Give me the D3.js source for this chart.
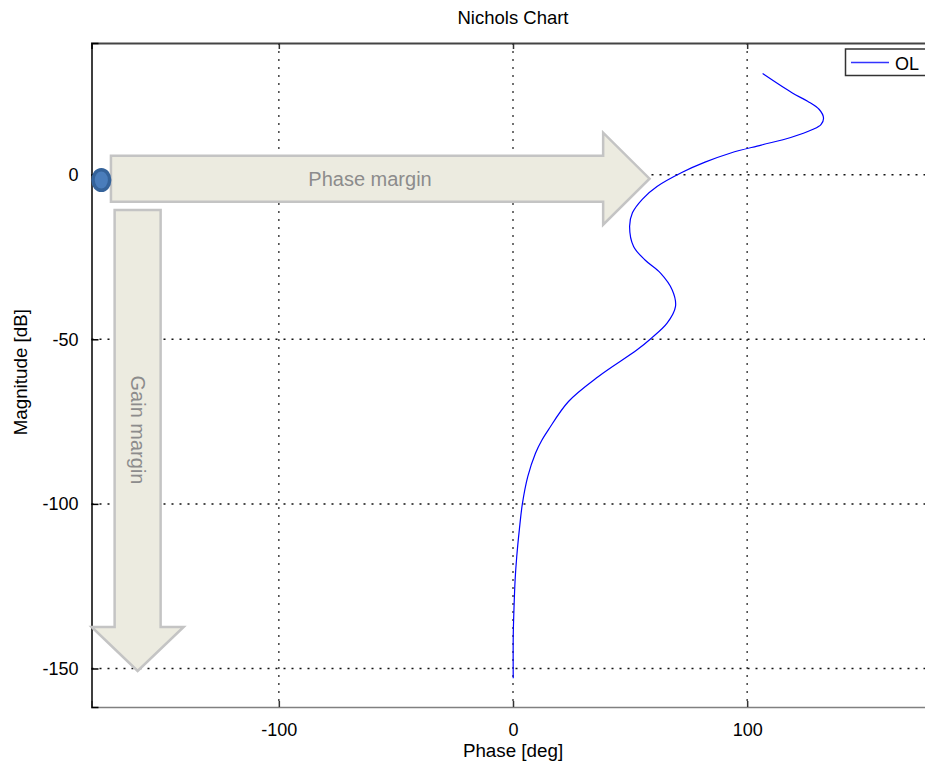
<!DOCTYPE html>
<html>
<head>
<meta charset="utf-8">
<script src="https://cdn.jsdelivr.net/npm/d3@7"></script>
<style>
  body { margin: 0; background: #fff; }
  svg { display: block; font-family: "Liberation Sans", Arial, sans-serif; }
</style>
</head>
<body>
<div id="chart"></div>
<script>
// open loop response, low freq at the bottom
var phase = [0.1, 0.1, 0.4, 0.9, 1.6, 2.7, 4.0, 6.3, 9.6, 12.2, 15.1, 23.7, 36.5, 53.0, 58.7,
             65.8, 69.4, 68.0, 63.0, 56.5, 51.5, 49.8, 51.0, 55.3, 61.5, 72.5, 82.0, 93.0,
             106.0, 118.6, 127.9, 131.5, 132.6, 130.8, 125.8, 119.3, 106.6];
var mag = [-153.0, -140.3, -132.2, -123.1, -116.0, -107.9, -100.0, -91.7, -84.6, -80.8, -77.5,
           -68.9, -61.3, -53.2, -49.9, -45.1, -40.0, -35.0, -29.9, -26.0, -21.8, -15.7, -11.6,
           -7.4, -3.6, 0.8, 3.8, 6.6, 9.0, 11.3, 13.7, 15.2, 17.2, 19.8, 22.3, 24.8, 30.7];
var xTicks = [-100, 0, 100];
var yTicks = [0, -50, -100, -150];
var seriesName = 'OL';

(function () {
    var width = 925, height = 763;
    var pLeft = 91.5, pTop = 43, pRight = 934.5, pBottom = 707;
    var fmt = function (d) { return String(d); };

    var x = d3.scaleLinear().domain([-180, 180]).range([pLeft, pRight]);
    var y = d3.scaleLinear().domain([-161.7, 40]).range([pBottom, pTop]);

    var svg = d3.select('#chart').append('svg')
        .attr('width', width)
        .attr('height', height);

    // grid
    svg.selectAll('.vgrid').data(xTicks).enter()
        .append('line')
        .attr('x1', function (d) { return x(d); })
        .attr('x2', function (d) { return x(d); })
        .attr('y1', pTop)
        .attr('y2', pBottom)
        .attr('stroke', '#444')
        .attr('stroke-width', 1.5)
        .attr('stroke-dasharray', '2,6');
    svg.selectAll('.hgrid').data(yTicks).enter()
        .append('line')
        .attr('x1', pLeft)
        .attr('x2', pRight)
        .attr('y1', function (d) { return y(d); })
        .attr('y2', function (d) { return y(d); })
        .attr('stroke', '#111')
        .attr('stroke-width', 1.5)
        .attr('stroke-dasharray', '2,6');

    // axes
    var xAxis = d3.axisBottom(x).tickValues(xTicks).tickFormat(fmt).tickSize(-6).tickPadding(16);
    var yAxis = d3.axisLeft(y).tickValues(yTicks).tickFormat(fmt).tickSize(-7).tickPadding(13);

    var gx = svg.append('g').attr('transform', 'translate(0,' + pBottom + ')').call(xAxis);
    gx.select('.domain').attr('stroke', '#808080').attr('stroke-width', 1.5);
    gx.selectAll('.tick line').attr('stroke', '#333').attr('stroke-width', 1.5);
    gx.selectAll('.tick text').attr('font-size', 18).attr('fill', '#000')
        .attr('font-family', '"Liberation Sans", Arial, sans-serif');

    var gxTop = svg.append('g').attr('transform', 'translate(0,' + pTop + ')')
        .call(d3.axisTop(x).tickValues(xTicks).tickSize(-6).tickFormat(''));
    gxTop.select('.domain').attr('stroke', '#444').attr('stroke-width', 2);
    gxTop.selectAll('.tick line').attr('stroke', '#333').attr('stroke-width', 1.5);

    var gy = svg.append('g').attr('transform', 'translate(' + pLeft + ',0)').call(yAxis);
    gy.select('.domain').attr('stroke', '#000').attr('stroke-width', 1.5);
    gy.selectAll('.tick line').attr('stroke', '#000').attr('stroke-width', 1.5);
    gy.selectAll('.tick text').attr('font-size', 18).attr('fill', '#000')
        .attr('font-family', '"Liberation Sans", Arial, sans-serif');

    // title + labels
    svg.append('text')
        .attr('x', x(0)).attr('y', 24)
        .attr('text-anchor', 'middle')
        .attr('font-size', 18.5)
        .text('Nichols Chart');
    svg.append('text')
        .attr('x', x(0)).attr('y', 757)
        .attr('text-anchor', 'middle')
        .attr('font-size', 18.8)
        .text('Phase [deg]');
    svg.append('text')
        .attr('transform', 'translate(27,' + y(-60) + ') rotate(-90)')
        .attr('text-anchor', 'middle')
        .attr('font-size', 18.8)
        .text('Magnitude [dB]');

    // curve
    var pts = phase.map(function (p, i) { return [p, mag[i]]; });
    var line = d3.line()
        .x(function (d) { return x(d[0]); })
        .y(function (d) { return y(d[1]); })
        .curve(d3.curveCatmullRom.alpha(0.5));
    svg.append('path')
        .datum(pts)
        .attr('d', line)
        .attr('fill', 'none')
        .attr('stroke', '#0000ff')
        .attr('stroke-width', 1.2);

    // legend
    svg.append('rect')
        .attr('x', 845.5).attr('y', 49)
        .attr('width', 100).attr('height', 26.5)
        .attr('fill', '#fff')
        .attr('stroke', '#333')
        .attr('stroke-width', 1.5);
    svg.append('line')
        .attr('x1', 851).attr('x2', 889)
        .attr('y1', 62.5).attr('y2', 62.5)
        .attr('stroke', '#3333ff')
        .attr('stroke-width', 1.5);
    svg.append('text')
        .attr('x', 895).attr('y', 69.5)
        .attr('font-size', 18)
        .text(seriesName);

    // annotations: phase margin / gain margin arrows
    var ann = svg.append('g');
    var pmY = y(0) + 4;
    var pmTail = x(-171.7), pmHeadStart = x(38.5), pmTip = x(58.3);
    ann.append('path')
        .attr('d', 'M' + pmTail + ',' + (pmY - 23) +
            ' L' + pmHeadStart + ',' + (pmY - 23) +
            ' L' + pmHeadStart + ',' + (pmY - 46) +
            ' L' + pmTip + ',' + pmY +
            ' L' + pmHeadStart + ',' + (pmY + 46) +
            ' L' + pmHeadStart + ',' + (pmY + 23) +
            ' L' + pmTail + ',' + (pmY + 23) + ' Z')
        .attr('fill', '#ecebe0')
        .attr('stroke', '#c4c4c4')
        .attr('stroke-width', 2.5);
    ann.append('text')
        .attr('x', 370).attr('y', pmY + 7)
        .attr('text-anchor', 'middle')
        .attr('font-size', 20)
        .attr('fill', '#8c8c8c')
        .text('Phase margin');

    var gmX = x(-160.3);
    var gmTop = 210, gmHeadStart = 627, gmTip = 671;
    ann.append('path')
        .attr('d', 'M' + (gmX - 23) + ',' + gmTop +
            ' L' + (gmX + 23) + ',' + gmTop +
            ' L' + (gmX + 23) + ',' + gmHeadStart +
            ' L' + (gmX + 46) + ',' + gmHeadStart +
            ' L' + gmX + ',' + gmTip +
            ' L' + (gmX - 46) + ',' + gmHeadStart +
            ' L' + (gmX - 23) + ',' + gmHeadStart + ' Z')
        .attr('fill', '#ecebe0')
        .attr('stroke', '#c4c4c4')
        .attr('stroke-width', 2.5);
    ann.append('text')
        .attr('transform', 'translate(' + (gmX - 7) + ',430) rotate(90)')
        .attr('text-anchor', 'middle')
        .attr('font-size', 20)
        .attr('fill', '#8c8c8c')
        .text('Gain margin');

    // critical point marker
    ann.append('ellipse')
        .attr('cx', x(-175.8)).attr('cy', 180)
        .attr('rx', 8.3).attr('ry', 10.3)
        .attr('fill', '#4a7dbb')
        .attr('stroke', '#35639a')
        .attr('stroke-width', 3.5);
})();
</script>
</body>
</html>
